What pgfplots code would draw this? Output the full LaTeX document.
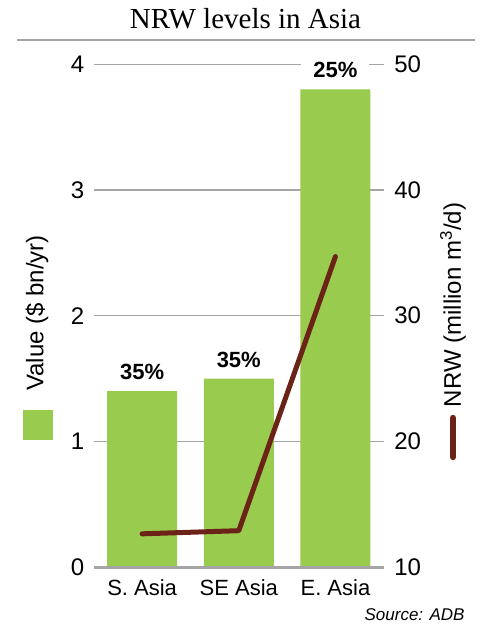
\documentclass[border=0pt]{standalone}
\usepackage{fontspec}
\setmainfont{Liberation Sans}
\newfontfamily\titlefont{Liberation Serif}
\usepackage{pgfplots}
\pgfplotsset{compat=1.18}
\usepackage{pgfplotstable}

\definecolor{barGreen}{RGB}{153,203,79}
\definecolor{nrwBrown}{RGB}{107,35,24}
\definecolor{gridGray}{RGB}{165,165,165}

% value in $ bn/yr, share of NRW in %, NRW in million m3/d
\pgfplotstableread{
idx value share nrw
0   1.40  35    12.65
1   1.50  35    12.90
2   3.80  25    34.70
}\nrwdata

\newcommand{\tickfont}{\fontsize{24}{28}\selectfont}
\newcommand{\labfont}{\fontsize{24}{28}\selectfont}

\begin{document}
\begin{tikzpicture}[x=1pt,y=1pt]
\path[use as bounding box] (0,0) rectangle (481,625);

% title and rule
\node[anchor=base] at (245.5,596) {\titlefont\fontsize{29}{33}\selectfont NRW levels in Asia};
\draw[gridGray, line width=1.3pt] (17,585) -- (475,585);

% left axis: bars
\begin{axis}[
  at={(97,46)}, anchor=south west,
  scale only axis, width=290pt, height=503pt,
  xmin=-0.5, xmax=2.5, ymin=0, ymax=4,
  ybar, bar width=70pt,
  xtick={0,1,2}, xticklabels={S. Asia, SE Asia, E. Asia},
  ytick={0,1,2,3,4},
  axis line style={draw=none}, tick style={draw=none},
  ymajorgrids, major grid style={gridGray, line width=1.2pt},
  /pgf/number format/assume math mode=true,
  tick label style={font=\tickfont},
  xticklabel style={font=\fontsize{22}{26}\selectfont, yshift=-5pt},
  yticklabel style={xshift=-6pt},
  clip=false,
]
\addplot[fill=barGreen, draw=none,
  point meta=explicit symbolic,
  nodes near coords={\pgfplotspointmeta\%},
  every node near coord/.append style={font=\bfseries\fontsize{22}{26}\selectfont,
     fill=white, inner xsep=12pt, inner ysep=2pt, yshift=9pt}]
  table[x=idx, y=value, meta=share] {\nrwdata};
\draw[gridGray, line width=3pt] (axis cs:-0.5,0) -- (axis cs:2.5,0);
\end{axis}

% right axis: NRW line
\begin{axis}[
  at={(97,46)}, anchor=south west,
  scale only axis, width=290pt, height=503pt,
  xmin=-0.5, xmax=2.5, ymin=10, ymax=50,
  axis x line=none, axis y line*=right,
  ytick={10,20,30,40,50},
  y axis line style={draw=none}, tick style={draw=none},
  /pgf/number format/assume math mode=true,
  tick label style={font=\tickfont},
  yticklabel style={xshift=7pt},
  clip=false,
]
\addplot[nrwBrown, line width=5pt, line cap=round, line join=round]
  table[x=idx, y=nrw] {\nrwdata};
\end{axis}

% axis titles and keys
\node[rotate=90, font=\labfont] at (37,312) {Value (\$ bn/yr)};
\fill[barGreen] (23,185) rectangle (53,215);
\node[rotate=90, font=\labfont] at (453,320) {NRW (million m\textsuperscript{3}/d)};
\draw[nrwBrown, line width=6.5pt, line cap=round] (453,168) -- (453,207);

% source
\node[anchor=base east, font=\itshape\fontsize{17}{20}\selectfont] at (468,5) {Source: ADB};
\end{tikzpicture}
\end{document}
